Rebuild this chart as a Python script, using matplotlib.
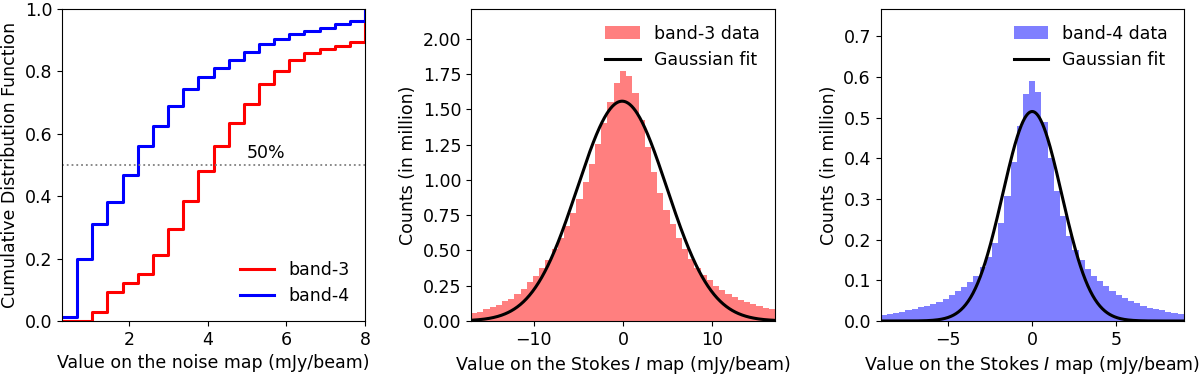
import numpy as np
import matplotlib
matplotlib.use("Agg")
import matplotlib.pyplot as plt

# ---------------- data ----------------
# Left panel: cumulative distribution of noise-map values (20 bins, 0.3 .. 8 mJy/beam)
cdf_range = (0.3, 8.0)
cdf_nbins = 20
cdf_band3 = [0.0, 0.0, 0.030, 0.092, 0.121, 0.151, 0.211, 0.294, 0.386, 0.480,
             0.561, 0.635, 0.697, 0.759, 0.801, 0.836, 0.859, 0.873, 0.882, 0.893]
cdf_band4 = [0.014, 0.200, 0.311, 0.382, 0.468, 0.561, 0.626, 0.690, 0.745, 0.781,
             0.810, 0.835, 0.862, 0.887, 0.905, 0.920, 0.930, 0.940, 0.951, 0.960]
cdf_end = 1.0

# Middle panel: band-3 Stokes I histogram (49 bins, -17 .. 17 mJy/beam), counts in million
b3_range = (-17.0, 17.0)
b3_counts = [0.054, 0.066, 0.083, 0.099, 0.116, 0.139, 0.158, 0.189, 0.229, 0.274,
             0.318, 0.373, 0.434, 0.507, 0.585, 0.675, 0.762, 0.861, 0.983, 1.111,
             1.257, 1.406, 1.554, 1.686, 1.771, 1.738, 1.613, 1.422, 1.229, 1.057,
             0.910, 0.785, 0.684, 0.590, 0.507, 0.436, 0.375, 0.328, 0.288, 0.250,
             0.219, 0.191, 0.167, 0.151, 0.132, 0.118, 0.104, 0.092, 0.083]
b3_fit_amp, b3_fit_mu, b3_fit_sigma = 1.557, -0.1, 5.0

# Right panel: band-4 Stokes I histogram (49 bins, -9 .. 9 mJy/beam), counts in million
b4_range = (-9.0, 9.0)
b4_counts = [0.0148, 0.0172, 0.0205, 0.023, 0.026, 0.0295, 0.0336, 0.0377, 0.0426, 0.0475,
             0.055, 0.063, 0.073, 0.084, 0.097, 0.111, 0.132, 0.157, 0.191, 0.242,
             0.307, 0.390, 0.480, 0.557, 0.589, 0.562, 0.489, 0.400, 0.320, 0.259,
             0.210, 0.175, 0.149, 0.128, 0.111, 0.0975, 0.085, 0.074, 0.065, 0.0566,
             0.050, 0.0434, 0.0377, 0.0328, 0.0287, 0.026, 0.023, 0.0205, 0.0172]
b4_fit_amp, b4_fit_mu, b4_fit_sigma = 0.515, 0.0, 1.75

# ---------------- figure ----------------
FS = 12.5
plt.rcParams['font.family'] = ['DejaVu Sans']
plt.rcParams['font.size'] = FS
fig = plt.figure(figsize=(12, 3.74), dpi=100)

bottom = (374 - 321) / 374
height = 312 / 374
ax1 = fig.add_axes([62 / 1200, bottom, 303 / 1200, height])
ax2 = fig.add_axes([471 / 1200, bottom, 304 / 1200, height])
ax3 = fig.add_axes([880.7 / 1200, bottom, 303 / 1200, height])

# --- left: CDF ---
edges = np.linspace(cdf_range[0], cdf_range[1], cdf_nbins + 1)
ax1.step(edges, list(cdf_band3) + [cdf_end], where='post', color='red', lw=2.2, label='band-3')
ax1.step(edges, list(cdf_band4) + [cdf_end], where='post', color='blue', lw=2.2, label='band-4')
ax1.axhline(0.5, color='gray', ls=':', lw=1.3)
ax1.text(5.0, 0.51, '50%', ha='left', va='bottom', fontsize=FS)
ax1.set_xlim(cdf_range)
ax1.set_ylim(0, 1.0)
ax1.set_xticks([2, 4, 6, 8])
ax1.set_yticks([0.0, 0.2, 0.4, 0.6, 0.8, 1.0])
ax1.set_xlabel('Value on the noise map (mJy/beam)')
ax1.set_ylabel('Cumulative Distribution Function')
ax1.legend(loc='lower right', frameon=False, fontsize=FS, handlelength=2.0)

# --- middle: band-3 histogram ---
e3 = np.linspace(b3_range[0], b3_range[1], len(b3_counts) + 1)
c3 = 0.5 * (e3[:-1] + e3[1:])
ax2.hist(c3, bins=e3, weights=b3_counts, color='red', alpha=0.5, label='band-3 data')
x3 = np.linspace(b3_range[0], b3_range[1], 500)
ax2.plot(x3, b3_fit_amp * np.exp(-(x3 - b3_fit_mu) ** 2 / (2 * b3_fit_sigma ** 2)),
         color='black', lw=2.2, label='Gaussian fit')
ax2.set_xlim(b3_range)
ax2.set_ylim(0, 2.21)
ax2.set_xticks([-10, 0, 10])
ax2.set_yticks(np.arange(0, 2.01, 0.25))
ax2.yaxis.set_major_formatter(matplotlib.ticker.FormatStrFormatter('%.2f'))
ax2.set_xlabel('Value on the Stokes $I$ map (mJy/beam)')
ax2.set_ylabel('Counts (in million)')
ax2.legend(loc='upper right', frameon=False, fontsize=FS)

# --- right: band-4 histogram ---
e4 = np.linspace(b4_range[0], b4_range[1], len(b4_counts) + 1)
c4 = 0.5 * (e4[:-1] + e4[1:])
ax3.hist(c4, bins=e4, weights=b4_counts, color='blue', alpha=0.5, label='band-4 data')
x4 = np.linspace(b4_range[0], b4_range[1], 500)
ax3.plot(x4, b4_fit_amp * np.exp(-(x4 - b4_fit_mu) ** 2 / (2 * b4_fit_sigma ** 2)),
         color='black', lw=2.2, label='Gaussian fit')
ax3.set_xlim(b4_range)
ax3.set_ylim(0, 0.767)
ax3.set_xticks([-5, 0, 5])
ax3.set_yticks(np.arange(0, 0.71, 0.1))
ax3.yaxis.set_major_formatter(matplotlib.ticker.FormatStrFormatter('%.1f'))
ax3.set_xlabel('Value on the Stokes $I$ map (mJy/beam)')
ax3.set_ylabel('Counts (in million)')
ax3.legend(loc='upper right', frameon=False, fontsize=FS)

fig.savefig('out.png', dpi=100)
